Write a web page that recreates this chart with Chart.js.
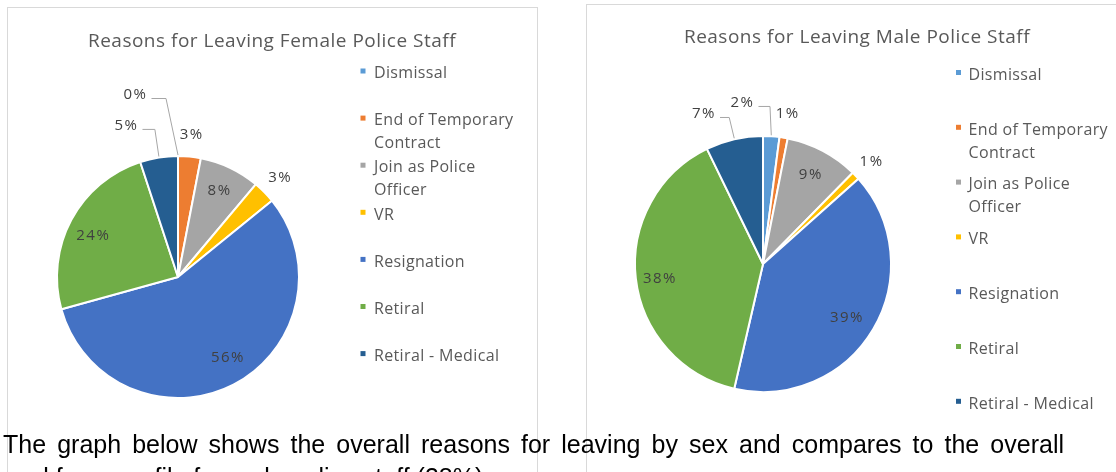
<!DOCTYPE html>
<html>
<head>
<meta charset="utf-8">
<title>Reasons for Leaving Police Staff</title>
<script src="https://cdn.jsdelivr.net/npm/chart.js@4.4.1/dist/chart.umd.min.js"></script>
<style>
  html, body { margin: 0; padding: 0; background: #fff; }
  body { width: 1116px; height: 472px; overflow: hidden; position: relative; }
  .frame { position: absolute; box-sizing: border-box; border: 1px solid #d9d9d9; background: #fff; }
  canvas { position: absolute; top: 0; }
  #note {
    position: absolute; left: 3px; top: 428px; width: 1061px; margin: 0;
    font: 25px/33px "Liberation Sans", Arial, sans-serif; color: #000; text-align: justify;
  }
</style>
</head>
<body>
<div class="frame" style="left:7px; top:7px; width:531px; height:520px"></div>
<div class="frame" style="left:586px; top:4px; width:600px; height:520px"></div>
<canvas id="femaleChart" width="560" height="472" style="left:0"></canvas>
<canvas id="maleChart" width="556" height="472" style="left:560px"></canvas>
<p id="note">The graph below shows the overall reasons for leaving by sex and compares to the overall workforce profile for male police staff (38%).</p>

<script>
// Reasons for leaving, percentage share of leavers
const categories = ['Dismissal', 'End of Temporary Contract', 'Join as Police Officer', 'VR', 'Resignation', 'Retiral', 'Retiral - Medical'];
const femalePct = [0, 3, 8, 3, 56, 24, 5];
const malePct = [2, 1, 9, 1, 39, 38, 7];
const sliceColours = ['#5B9BD5', '#ED7D31', '#A5A5A5', '#FFC000', '#4472C4', '#70AD47', '#255E91'];
const femaleTitle = 'Reasons for Leaving Female Police Staff';
const maleTitle = 'Reasons for Leaving Male Police Staff';

const FONT = '"Open Sans", "Noto Sans", sans-serif';

function wrapWords(ctx, text, maxWidth) {
  const words = text.split(' ');
  const lines = [];
  let cur = '';
  words.forEach(w => {
    const test = cur ? cur + ' ' + w : w;
    if (cur && ctx.measureText(test).width > maxWidth) {
      lines.push(cur);
      cur = w;
    } else {
      cur = test;
    }
  });
  if (cur) lines.push(cur);
  return lines;
}

// Draws the chart title, the side legend and the percentage labels
const pieDecor = {
  id: 'pieDecor',
  afterDraw(chart, args, o) {
    const ctx = chart.ctx;
    const ds = chart.data.datasets[0];
    const meta = chart.getDatasetMeta(0);
    ctx.save();

    // title
    ctx.font = o.titleSize + 'px ' + FONT;
    ctx.letterSpacing = o.titleSpacing;
    ctx.fillStyle = '#595959';
    ctx.textAlign = 'center';
    ctx.textBaseline = 'alphabetic';
    ctx.fillText(o.title, o.titleX, o.titleY);

    // legend
    const lg = o.legend;
    ctx.font = lg.size + 'px ' + FONT;
    ctx.letterSpacing = lg.spacing;
    ctx.textAlign = 'left';
    chart.data.labels.forEach((name, i) => {
      const cy = lg.y0 + i * lg.step;
      ctx.fillStyle = ds.backgroundColor[i];
      ctx.fillRect(lg.markX, cy - 1.5 - 2.5, 5, 5);
      ctx.fillStyle = '#595959';
      wrapWords(ctx, name, lg.maxWidth).forEach((ln, k) => {
        ctx.fillText(ln, lg.textX, cy + k * lg.lineGap + lg.size * 0.357);
      });
    });

    // percentage labels
    ctx.font = o.labelSize + 'px ' + FONT;
    ctx.letterSpacing = o.labelSpacing;
    ctx.textAlign = 'center';
    ctx.strokeStyle = '#a6a6a6';
    ctx.lineWidth = 1;
    meta.data.forEach((arc, i) => {
      const p = arc.getProps(['x', 'y', 'startAngle', 'endAngle', 'outerRadius'], true);
      const mid = (p.startAngle + p.endAngle) / 2;
      const spec = o.labels[i];
      const text = ds.data[i] + '%';
      let lx, ly;
      if (spec.at === 'leader') {
        const ex = p.x + Math.cos(mid) * p.outerRadius;
        const ey = p.y + Math.sin(mid) * p.outerRadius;
        lx = ex + spec.dx;
        ly = ey + spec.dy;
        const w = ctx.measureText(text).width;
        ctx.beginPath();
        ctx.moveTo(lx + w / 2 + 4, ly + 4.5);
        ctx.lineTo(ex + spec.knee, ly + 4.5);
        ctx.lineTo(ex, ey - 1);
        ctx.stroke();
      } else {
        const rr = spec.at === 'out' ? p.outerRadius + spec.gap : p.outerRadius * spec.f;
        lx = p.x + Math.cos(mid) * rr + (spec.nx || 0);
        ly = p.y + Math.sin(mid) * rr + (spec.ny || 0);
      }
      ctx.fillStyle = '#404040';
      ctx.fillText(text, lx, ly + o.labelSize * 0.357);
    });
    ctx.restore();
  }
};

function makePie(canvasId, values, radius, padding, decor) {
  return new Chart(document.getElementById(canvasId), {
    type: 'pie',
    data: {
      labels: categories,
      datasets: [{
        data: values,
        backgroundColor: sliceColours,
        borderColor: '#ffffff',
        borderWidth: 2,
        radius: radius
      }]
    },
    options: {
      responsive: false,
      animation: false,
      events: [],
      layout: { padding: padding },
      plugins: {
        legend: { display: false },
        tooltip: { enabled: false },
        title: { display: false },
        pieDecor: decor
      }
    },
    plugins: [pieDecor]
  });
}

function build() {
  makePie('femaleChart', femalePct, 121,
    { left: 20, right: 224, top: 100, bottom: 18 },
    {
      title: femaleTitle, titleSize: 19, titleSpacing: '0.5px', titleX: 272, titleY: 46.7,
      legend: { size: 16, spacing: '0.35px', markX: 360.5, textX: 374, y0: 72.5, step: 47.1, lineGap: 23, maxWidth: 150 },
      labelSize: 15, labelSpacing: '1.5px',
      labels: [
        { at: 'leader', dx: -42.5, dy: -62, knee: -12 },
        { at: 'out', gap: 22.6 },
        { at: 'in', f: 0.8 },
        { at: 'out', gap: 22.5 },
        { at: 'in', f: 0.78, nx: 6.7, ny: -3.9 },
        { at: 'in', f: 0.78, nx: -1.5, ny: 2.5 },
        { at: 'leader', dx: -32.4, dy: -32.6, knee: -4 }
      ]
    });

  makePie('maleChart', malePct, 128,
    { left: 20, right: 170, top: 100, bottom: 44 },
    {
      title: maleTitle, titleSize: 19, titleSpacing: '0.5px', titleX: 297, titleY: 42.7,
      legend: { size: 16, spacing: '0.35px', markX: 396, textX: 408.5, y0: 74, step: 54.8, lineGap: 23, maxWidth: 145 },
      labelSize: 15, labelSpacing: '1.5px',
      labels: [
        { at: 'leader', dx: -28.8, dy: -34.3, knee: -1.3 },
        { at: 'out', gap: 24.9 },
        { at: 'in', f: 0.8 },
        { at: 'out', gap: 22 },
        { at: 'in', f: 0.78, nx: -2, ny: 2 },
        { at: 'in', f: 0.81, ny: 2.3 },
        { at: 'leader', dx: -30.2, dy: -26.3, knee: -5 }
      ]
    });
}

if (document.fonts && document.fonts.load) {
  Promise.all([
    document.fonts.load('16px "Open Sans"'),
    document.fonts.load('25px "Liberation Sans"')
  ]).then(build, build);
} else {
  build();
}
</script>
</body>
</html>
